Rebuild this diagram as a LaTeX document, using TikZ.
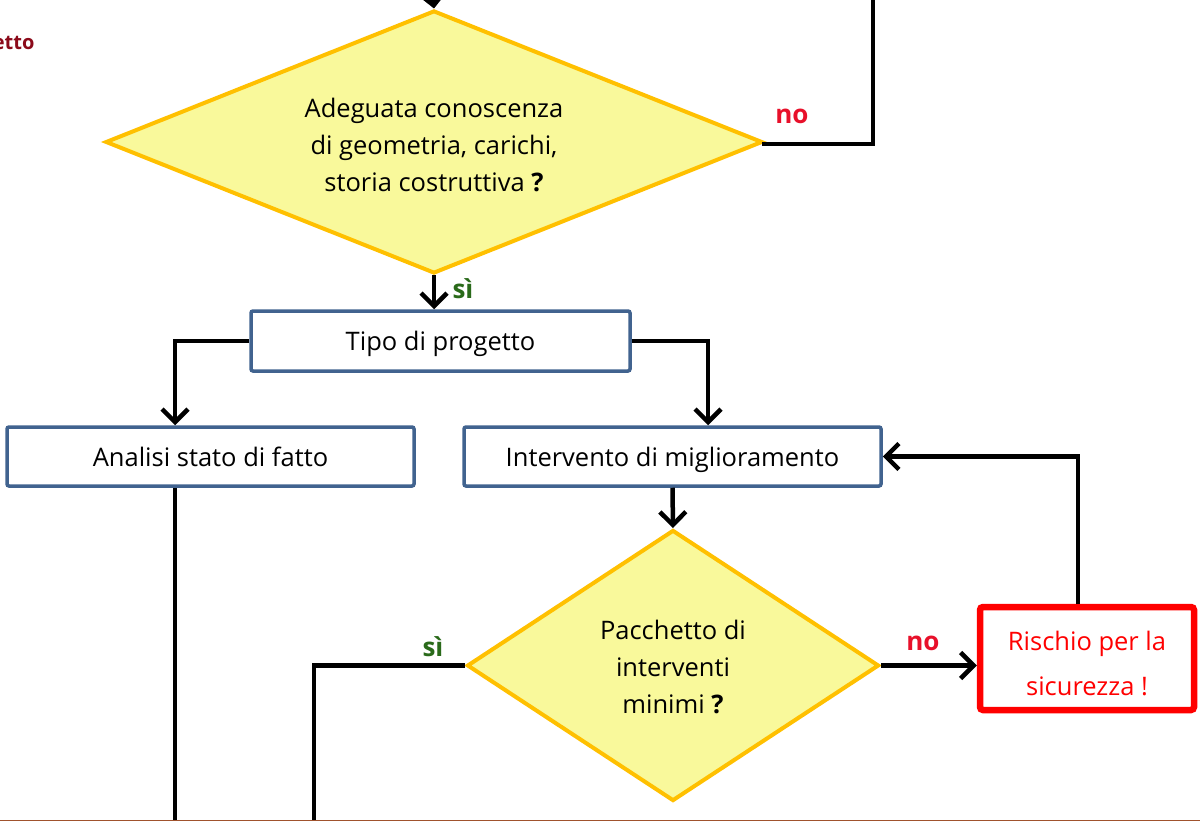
\documentclass[tikz,border=0pt]{standalone}
\usepackage{fontspec}
\setmainfont{Open Sans}
\usetikzlibrary{shapes.geometric,arrows.meta}
\definecolor{dfill}{HTML}{F9F99B}
\definecolor{dline}{HTML}{FFC000}
\definecolor{bline}{HTML}{41638F}
\definecolor{rred}{HTML}{FF0000}
\definecolor{nored}{HTML}{E8102A}
\definecolor{sigreen}{HTML}{2A6A1A}
\definecolor{darkred}{HTML}{8B0A1A}
\definecolor{edgebrown}{HTML}{A0522D}
\newcommand{\mylines}[2]{\raisebox{#1}[\height][\depth]{\begin{tabular}{@{}c@{}}#2\end{tabular}}}
\begin{document}
\begin{tikzpicture}[x=1pt,y=-1pt,
  font=\fontsize{25.5}{37}\selectfont,
  conn/.style={line width=4.5pt, black},
  arr/.style={conn, -{Straight Barb[length=13pt,width=26pt]}},
  dec/.style={diamond, draw=dline, fill=dfill, line width=4pt, inner sep=0pt},
  box/.style={rectangle, draw=bline, line width=3.5pt, rounded corners=2pt, fill=white,
    text height=23pt, text depth=4pt},
  lblno/.style={text=nored, font=\fontsize{26}{30}\selectfont\bfseries},
  lblsi/.style={text=sigreen, font=\fontsize{26}{30}\selectfont\bfseries}]

\clip (0,0) rectangle (1200,821);
\fill[white] (0,0) rectangle (1200,821);

% nodes
\node[dec, minimum width=657pt, minimum height=263pt, aspect=2.5] (d1) at (434,142)
  {\mylines{-5pt}{Adeguata conoscenza\\di geometria, carichi,\\storia costruttiva \textbf{?}}};
\node[box, minimum width=379pt, minimum height=60pt] (tipo) at (440.5,341) {Tipo di progetto};
\node[box, minimum width=407pt, minimum height=59pt] (analisi) at (210.5,456.5) {Analisi stato di fatto};
\node[box, minimum width=417pt, minimum height=59pt] (interv) at (672.5,456.5) {Intervento di miglioramento};
\node[dec, minimum width=412pt, minimum height=271pt, aspect=1.52] (d2) at (673,665.5)
  {\mylines{-4pt}{Pacchetto di\\interventi\\minimi \textbf{?}}};
\node[rectangle, draw=rred, fill=white, line width=6.5pt, rounded corners=3pt,
  minimum width=214pt, minimum height=103pt, text=rred] (risk) at (1087,658.5)
  {\mylines{-7pt}{Rischio per la\\[8pt]sicurezza !}};

% free ends
\coordinate (top1) at (433,0);
\coordinate (loopTop) at (873,0);
\coordinate (bot1) at (175,821);
\coordinate (bot2) at (314,821);

% connectors
\draw[arr] (top1) -- (d1.north);
\draw[conn] (d1.east) -- ++(0,2) -| (loopTop);
\draw[arr] (d1.south) -- (d1.south |- tipo.north);
\draw[arr] (tipo.west) -| ([xshift=-35.5pt]analisi.north);
\draw[arr] (tipo.east) -| ([xshift=35.5pt]interv.north);
\draw[conn] ([xshift=-35.5pt]analisi.south) -- (bot1);
\draw[arr] (interv.south) -- (d2.north);
\draw[conn] (d2.west) -| (bot2);
\draw[arr] (d2.east) -- (d2.east -| risk.west);
\draw[arr] ([xshift=-9pt]risk.north) |- (interv.east);

% labels
\node[lblno] (no1) at (792,116) {no};
\node[lblsi] (si1) at (463,289) {sì};
\node[lblsi] (si2) at (433,647) {sì};
\node[lblno] (no2) at (923,643) {no};
\node[text=darkred, font=\fontsize{20}{22}\selectfont\bfseries, anchor=east] (etto) at (38,43) {etto};

% bottom edge line
\draw[edgebrown, line width=1.5pt] (0,820.5) -- (1200,820.5);
\end{tikzpicture}
\end{document}
